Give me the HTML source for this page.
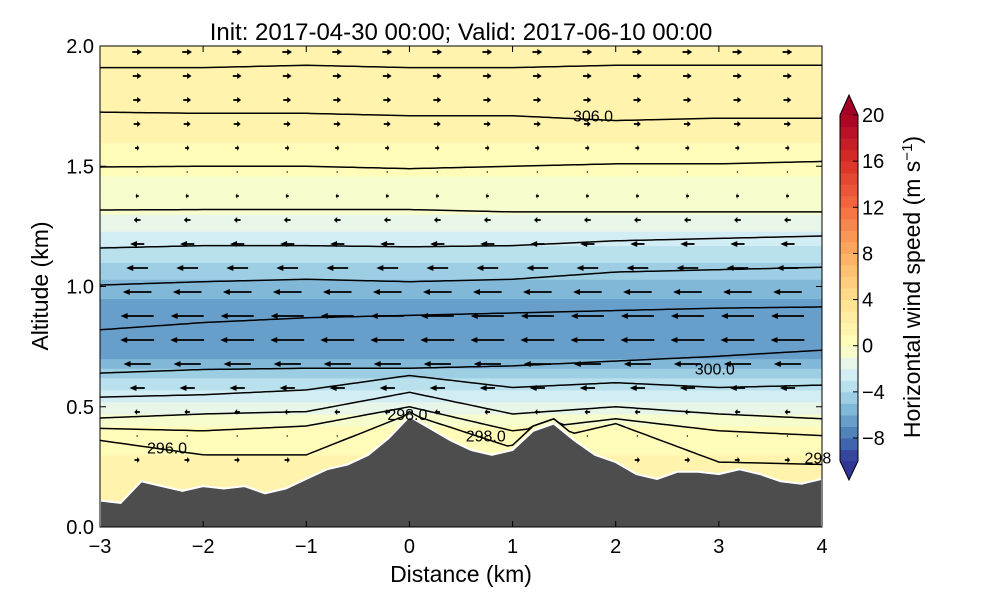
<!DOCTYPE html>
<html><head><meta charset="utf-8"><style>
body{margin:0;background:#fff;font-family:"Liberation Sans",sans-serif}
svg text{font-family:"Liberation Sans",sans-serif}
</style></head><body>
<svg id="c" width="1000" height="600" xmlns="http://www.w3.org/2000/svg">
<defs><clipPath id="pc"><rect x="100" y="46" width="722" height="481"/></clipPath></defs>
<g id="bg" clip-path="url(#pc)"></g>
<g id="cont" clip-path="url(#pc)"></g>
<g id="arr" clip-path="url(#pc)"></g>
<g id="ter" clip-path="url(#pc)"></g>
<g id="lbl"></g>
<rect x="100" y="46" width="722" height="481" fill="none" stroke="#000" stroke-width="1"/>
<g id="ax"></g>
<g id="cb"></g>
<text x="461" y="40" font-size="24" text-anchor="middle">Init: 2017-04-30 00:00; Valid: 2017-06-10 00:00</text>
<text x="461" y="582" font-size="23" text-anchor="middle">Distance (km)</text>
<text transform="translate(48,286) rotate(-90)" font-size="23" text-anchor="middle">Altitude (km)</text>
<text transform="translate(920,287) rotate(-90)" font-size="23" text-anchor="middle">Horizontal wind speed (m s<tspan baseline-shift="super" font-size="15">−1</tspan>)</text>
</svg>
<script>
const xTicks=[-3,-2,-1,0,1,2,3,4];
const yTicks=[0.0,0.5,1.0,1.5,2.0];
const cbTicks=[-8,-4,0,4,8,12,16,20];
const profAlt=[0,0.1,0.2,0.3,0.4,0.5,0.6,0.7,0.8,0.9,1.0,1.1,1.2,1.3,1.4,1.5,1.6,1.7,1.8,1.9,2.0];
const profSpeed=[1,1,1.2,1.0,0.3,-1.5,-3.5,-6,-7,-6.5,-5.5,-4,-2.5,-1,-0.5,0.3,1,1.5,1.6,1.8,2];
const terrX=[-3,-2.8,-2.6,-2.4,-2.2,-2,-1.8,-1.6,-1.4,-1.2,-1,-0.8,-0.6,-0.4,-0.2,0,0.2,0.4,0.6,0.8,1,1.2,1.4,1.6,1.8,2,2.2,2.4,2.6,2.8,3,3.2,3.4,3.6,3.8,4];
const terrH=[0.11,0.1,0.19,0.17,0.15,0.17,0.16,0.17,0.14,0.16,0.2,0.24,0.26,0.3,0.37,0.46,0.41,0.36,0.32,0.3,0.32,0.4,0.43,0.36,0.3,0.27,0.22,0.2,0.23,0.23,0.22,0.24,0.22,0.19,0.18,0.2];
const contX=[-3,-2,-1,0,1,2,3,4];
const cont1=[1.91,1.91,1.92,1.91,1.91,1.92,1.92,1.92];
const cont2=[1.725,1.72,1.72,1.71,1.71,1.69,1.70,1.70];
const cont3=[1.497,1.50,1.50,1.49,1.50,1.51,1.51,1.52];
const cont4=[1.318,1.32,1.32,1.32,1.31,1.31,1.31,1.31];
const cont5=[1.16,1.17,1.17,1.165,1.17,1.19,1.20,1.21];
const cont6=[1.006,1.02,1.03,1.02,1.03,1.06,1.07,1.08];
const cont7=[0.82,0.85,0.87,0.88,0.89,0.90,0.91,0.915];
const cont8=[0.64,0.655,0.66,0.66,0.67,0.69,0.71,0.735];
const cont9=[0.54,0.55,0.57,0.63,0.58,0.60,0.58,0.59];
const cont10=[0.453,0.47,0.48,0.56,0.47,0.50,0.47,0.45];
const cont11=[0.41,0.40,0.42,0.50,0.40,0.45,0.40,0.38];
const cont12=[0.36,0.30,0.30,0.47,0.33,0.43,0.27,0.26];
const contours=[cont1,cont2,cont3,cont4,cont5,cont6,cont7,cont8,cont9,cont10,cont11,cont12];
const labTexts=["306.0","300.0","298.0","298.0","296.0","298"];
const labX=[1.78,2.96,-0.02,0.74,-2.35,3.96];
const labY=[1.71,0.66,0.47,0.38,0.33,0.29];

const X0=100,X1=822,Y0=527,Y1=46;
const sx=v=>X0+(v+3)/7*(X1-X0);
const sy=v=>Y0-v/2*(Y0-Y1);
const NS="http://www.w3.org/2000/svg";
function mk(t,a,p){const e=document.createElementNS(NS,t);for(const k in a)e.setAttribute(k,a[k]);p.appendChild(e);return e;}
const anchors=["#313695","#4575b4","#74add1","#abd9e9","#e0f3f8","#ffffbf","#fee090","#fdae61","#f46d43","#d73027","#a50026"];
function hex(h){return [1,3,5].map(i=>parseInt(h.substr(i,2),16));}
function cmap(v){v=Math.floor(v)+0.5;v=Math.max(-10,Math.min(20,v));
 const t=v<0?0.5*(v+10)/10:0.5+0.5*v/20;const f=t*10,i=Math.min(9,Math.floor(f)),r=f-i;
 const a=hex(anchors[i]),b=hex(anchors[i+1]);return "rgb("+a.map((c,k)=>Math.round(c+(b[k]-c)*r)).join(",")+")";}
function interp(xs,ys,x){if(x<=xs[0])return ys[0];for(let i=1;i<xs.length;i++)if(x<=xs[i]){const r=(x-xs[i-1])/(xs[i]-xs[i-1]);return ys[i-1]+r*(ys[i]-ys[i-1]);}return ys[ys.length-1];}
const bg=document.getElementById('bg');
for(let a=0;a<2;a+=0.01){const r=mk('rect',{x:X0,y:sy(a+0.01),width:X1-X0,height:sy(a)-sy(a+0.01)+0.5,fill:cmap(interp(profAlt,profSpeed,a+0.005))},bg);

}
const cg=document.getElementById('cont');
contours.forEach(c=>{let d="";for(let x=-3;x<=4.001;x+=0.05){const h=Math.max(interp(contX,c,x),interp(terrX,terrH,x)+0.02);d+=(d?"L":"M")+sx(x).toFixed(1)+","+sy(h).toFixed(1);}
const p=mk('path',{d:d,fill:"none",stroke:"#000","stroke-width":1.5},cg);

});
const ag=document.getElementById('arr');
for(let i=0;i<14;i++){const x=-2.64+i*0.485;for(let j=0;j<19;j++){const a=(527-484+j*24)/240.5;
 if(a>1.99||a<interp(terrX,terrH,x)+0.03)continue;const u=interp(profAlt,profSpeed,a);const L=u*5;
 const px=sx(x),py=sy(a);const g=mk('g',{},ag);
 
 
 if(Math.abs(L)<3){mk('circle',{cx:px,cy:py,r:0.7,fill:"#000"},g);continue;}
 const s=Math.sign(L),hl=Math.min(7,Math.abs(L)*0.5),x2=px+L/2,x1=px-L/2;
 mk('line',{x1:x1,y1:py,x2:x2-s*hl*0.5,y2:py,stroke:"#000","stroke-width":1.8},g);
 mk('polygon',{points:`${x2},${py} ${x2-s*hl},${py-3} ${x2-s*hl},${py+3}`,fill:"#000"},g);}}
const tg=document.getElementById('ter');let td="M"+sx(-3)+","+(Y0+2);
terrX.forEach((x,i)=>td+="L"+sx(x).toFixed(1)+","+sy(terrH[i]).toFixed(1));td+="L"+sx(4)+","+(Y0+2)+"Z";
mk('path',{d:td,fill:"#4d4d4d",stroke:"#fff","stroke-width":2},tg);
const lg=document.getElementById('lbl');
labTexts.forEach((t,i)=>{const e=mk('text',{x:sx(labX[i]),y:sy(labY[i])+6,"font-size":16,"text-anchor":"middle"},lg);e.textContent=t;

});
const ax=document.getElementById('ax');
xTicks.forEach(v=>{mk('line',{x1:sx(v),x2:sx(v),y1:Y0,y2:Y0-6,stroke:"#000"},ax);mk('line',{x1:sx(v),x2:sx(v),y1:Y1,y2:Y1+6,stroke:"#000"},ax);
const t=mk('text',{x:sx(v),y:553,"font-size":20,"text-anchor":"middle"},ax);t.textContent=(v<0?"−"+(-v):v);

});
yTicks.forEach(v=>{mk('line',{x1:X0,x2:X0+6,y1:sy(v),y2:sy(v),stroke:"#000"},ax);mk('line',{x1:X1,x2:X1-6,y1:sy(v),y2:sy(v),stroke:"#000"},ax);
const t=mk('text',{x:94,y:sy(v)+7,"font-size":20,"text-anchor":"end"},ax);t.textContent=v.toFixed(1);

});
const cb=document.getElementById('cb');const cy=v=>438-(v+8)*(438-115)/28;const CX=840,CW=18;
for(let v=-10;v<20;v++){mk('rect',{x:CX,y:cy(v+1),width:CW,height:cy(v)-cy(v+1)+0.5,fill:cmap(v)},cb);}
mk('polygon',{points:`${CX},${cy(20)} ${CX+CW/2},95 ${CX+CW},${cy(20)}`,fill:cmap(25)},cb);
mk('polygon',{points:`${CX},${cy(-10)} ${CX+CW/2},480 ${CX+CW},${cy(-10)}`,fill:cmap(-15)},cb);
mk('path',{d:`M${CX},${cy(20)}L${CX+CW/2},95L${CX+CW},${cy(20)}L${CX+CW},${cy(-10)}L${CX+CW/2},480L${CX},${cy(-10)}Z`,fill:"none",stroke:"#000"},cb);
cbTicks.forEach(v=>{mk('line',{x1:CX+CW-5,x2:CX+CW,y1:cy(v),y2:cy(v),stroke:"#000"},cb);
const t=mk('text',{x:862,y:cy(v)+7,"font-size":20},cb);t.textContent=(v<0?"−"+(-v):v);

});
</script>
</body></html>
